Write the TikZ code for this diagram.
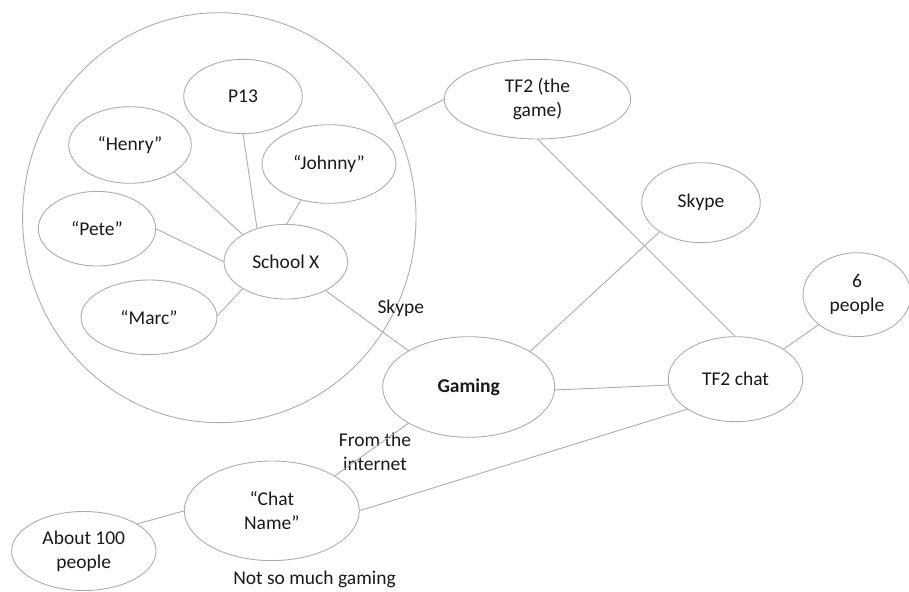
\documentclass[tikz,border=0pt]{standalone}
\usepackage{fontspec}
\setmainfont{Carlito}
\usetikzlibrary{shapes.geometric}
\definecolor{edgegray}{RGB}{172,172,172}
\definecolor{txt}{RGB}{25,25,25}
\begin{document}
\begin{tikzpicture}[x=1pt,y=-1pt,
  bubble/.style={ellipse,draw=edgegray,line width=0.9pt,inner sep=0pt,outer sep=0pt,
    align=center,text=txt,font=\fontsize{19.5}{24}\selectfont},
  conn/.style={draw=edgegray,line width=0.9pt},
  lbl/.style={text=txt,align=center,inner sep=0pt,font=\fontsize{19.5}{24}\selectfont}]
\useasboundingbox (0,0) rectangle (909,591);
% group circle
\node[bubble,minimum width=393.4pt,minimum height=410pt] (grp) at (219.3,217.7) {};
% inner nodes
\node[bubble,minimum width=118.6pt,minimum height=74.4pt] (p13) at (243,96.5) {P13};
\node[bubble,minimum width=122.6pt,minimum height=76.6pt] (hen) at (130,145) {“Henry”};
\node[bubble,minimum width=134pt,minimum height=78.6pt] (joh) at (329,164) {“Johnny”};
\node[bubble,minimum width=117.4pt,minimum height=74.6pt] (pet) at (97,228.7) {“Pete”};
\node[bubble,minimum width=123.6pt,minimum height=74.6pt] (sch) at (285.8,261.7) {School X};
\node[bubble,minimum width=136pt,minimum height=74.6pt] (mar) at (149,317.3) {“Marc”};
% outer nodes
\node[bubble,minimum width=172pt,minimum height=100.6pt,font=\fontsize{19.5}{24}\selectfont\bfseries] (gam) at (468.7,387) {Gaming};
\node[bubble,minimum width=134.4pt,minimum height=85pt] (tfc) at (735.5,379.2) {TF2 chat};
\node[bubble,minimum width=108pt,minimum height=84pt] (six) at (857,294.7) {6\\people};
\node[bubble,minimum width=186.4pt,minimum height=79.6pt] (tfg) at (537.5,99.2) {TF2 (the\\game)};
\node[bubble,minimum width=118.6pt,minimum height=80pt] (sky) at (701,202.7) {Skype};
\node[bubble,minimum width=175pt,minimum height=99.6pt] (chn) at (271.8,510.8) {“Chat\\Name”};
\node[bubble,minimum width=144.4pt,minimum height=79pt] (abt) at (83.8,551) {About 100\\people};
% labels
\node[lbl] (lskype) at (400.8,308) {Skype};
\node[lbl] (linet) at (375,452) {From the\\internet};
\node[lbl,anchor=base] (lnot) at (314.5,584.5) {Not so much gaming};
% connectors
\draw[conn] (hen.-31.8) -- (sch.148);
\draw[conn] (p13.-90) -- (sch.131.8);
\draw[conn] (joh.232.4) -- (sch.89);
\draw[conn] (pet.0) -- (sch.180);
\draw[conn] (mar.1) -- (sch.212);
\draw[conn] (sch.-36.8) -- (gam.149.5);
\draw[conn] (gam.30) -- (sky.215);
\draw[conn] (gam.-2.7) -- (tfc.185.5);
\draw[conn] (tfg.-90) -- (tfc.90);
\draw[conn] (tfc.32.3) -- (six.218.3);
\draw[conn] (grp.28.7) -- (tfg.180);
\draw[conn] (gam.211) -- (chn.29.8);
\draw[conn] (chn.0.5) -- (tfc.212.6);
\draw[conn] (abt.27.4) -- (chn.180);
\end{tikzpicture}
\end{document}
